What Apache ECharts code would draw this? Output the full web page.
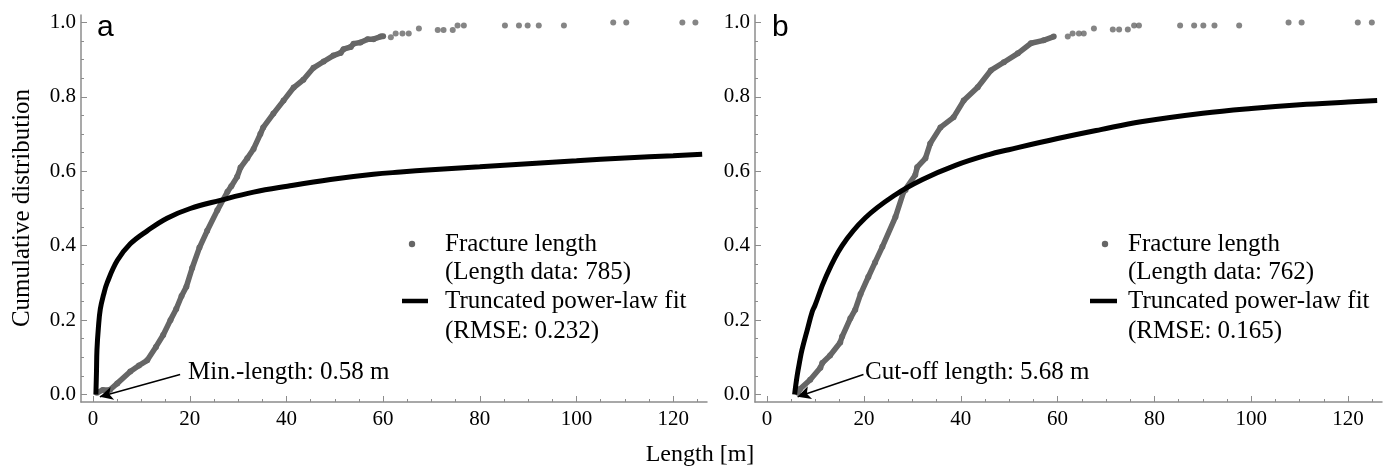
<!DOCTYPE html>
<html>
<head>
<meta charset="utf-8">
<script src="https://cdn.jsdelivr.net/npm/echarts@6/dist/echarts.min.js"></script>
<style>html,body{margin:0;padding:0;background:#fff;}#c{width:1386px;height:472px;}</style>
</head>
<body>
<div id="c"></div>
<script>
// ---- data ----
const xTicks = [0, 20, 40, 60, 80, 100, 120];
const yTicks = [0, 0.2, 0.4, 0.6, 0.8, 1.0];
const xMinor = [0,5,10,15,20,25,30,35,40,45,50,55,60,65,70,75,80,85,90,95,100,105,110,115,120,125];
const yMinor = [0,0.05,0.1,0.15,0.2,0.25,0.3,0.35,0.4,0.45,0.5,0.55,0.6,0.65,0.7,0.75,0.8,0.85,0.9,0.95,1.0];

// panel a: empirical CDF (dense part and separated points)
const denseA = [[0.8,0.005],[2,0.012],[3.5,0.013],[5,0.03],[7.7,0.062],[9.5,0.078],[11.2,0.092],[13,0.128],[14.5,0.16],[16,0.2],[17.2,0.23],[18.3,0.265],[19.3,0.29],[20.5,0.34],[22,0.395],[23.6,0.44],[25.7,0.495],[27.8,0.545],[28.6,0.56],[29.8,0.585],[30.5,0.61],[31.9,0.635],[33.2,0.66],[34.6,0.7],[35.2,0.718],[37.3,0.755],[39.4,0.79],[41.5,0.825],[43.5,0.846],[45.6,0.878],[47.7,0.895],[49.7,0.911],[51.2,0.918],[51.8,0.928],[53.3,0.934],[53.9,0.943],[55.3,0.946],[56.8,0.955],[58,0.955],[59.5,0.962],[60,0.963]];
const sparseA = [[61.6,0.96],[62.6,0.97],[64,0.97],[65.3,0.97],[67.4,0.984],[71.3,0.98],[72.5,0.98],[74.4,0.98],[75.4,0.992],[76.7,0.992],[85.2,0.992],[88.1,0.992],[89.9,0.992],[92.2,0.992],[97.4,0.992],[107.6,1.0],[110.3,1.0],[121.9,1.0],[124.6,1.0]];
// panel a: truncated power-law fit
const fitA = [[0.58,0],[0.7,0.06],[0.8,0.12],[1.1,0.18],[1.5,0.23],[2.2,0.27],[2.9,0.3],[5,0.36],[7.7,0.405],[11.2,0.44],[15.3,0.474],[20.1,0.5],[26.3,0.522],[33.2,0.544],[40.2,0.56],[49.1,0.578],[58,0.592],[63.6,0.598],[70,0.604],[80,0.612],[90,0.62],[100,0.628],[110,0.636],[120,0.642],[126,0.646]];

// panel b: empirical CDF
const denseB = [[6.4,0.005],[6.8,0.015],[8.9,0.04],[11,0.072],[11.4,0.085],[13,0.105],[15.1,0.14],[15.5,0.156],[17.2,0.205],[18.2,0.228],[19.3,0.27],[20.9,0.316],[22.3,0.355],[23.8,0.397],[26.5,0.477],[28.2,0.545],[28.6,0.55],[30.6,0.59],[31,0.611],[32.7,0.635],[33.7,0.675],[35.8,0.718],[38.5,0.745],[40.6,0.79],[43.5,0.826],[46.2,0.871],[48.9,0.893],[51.8,0.917],[54.5,0.944],[57.1,0.952],[59.2,0.962]];
const sparseB = [[62.1,0.962],[63.1,0.97],[64.4,0.97],[65.4,0.97],[67.5,0.984],[71.4,0.981],[72.7,0.981],[74.5,0.981],[75.8,0.992],[76.8,0.992],[85.3,0.992],[88.2,0.992],[90.1,0.992],[92.4,0.992],[97.5,0.992],[107.7,1.0],[110.4,1.0],[122,1.0],[124.9,1.0]];
const fitB = [[5.68,0],[6.2,0.05],[6.8,0.094],[7.2,0.12],[8.3,0.174],[9.3,0.222],[9.9,0.24],[12,0.312],[15.5,0.4],[20.3,0.475],[26.5,0.537],[32.1,0.578],[38.9,0.616],[45.8,0.645],[49.9,0.658],[60,0.688],[68.9,0.712],[77.2,0.733],[90,0.756],[100,0.769],[110,0.779],[120,0.786],[126,0.79]];

// annotation arrows [from, to] in data units
const arrowA = [[18,0.054],[1.4,-0.006]];
const arrowB = [[19.9,0.054],[6.3,-0.006]];

const legendA = ['Fracture length', '(Length data: 785)', 'Truncated power-law fit', '(RMSE: 0.232)'];
const legendB = ['Fracture length', '(Length data: 762)', 'Truncated power-law fit', '(RMSE: 0.165)'];
const noteA = 'Min.-length: 0.58 m';
const noteB = 'Cut-off length: 5.68 m';

// ---- chart ----
const SERIF = '"Liberation Serif", "Times New Roman", serif';
const SANS = '"Liberation Sans", Arial, sans-serif';
const AXC = '#8c8c8c';
const GRAY = '#666666';

const chart = echarts.init(document.getElementById('c'), null, {renderer: 'canvas'});

function xAxes(gi) {
  return [
    {type:'value', gridIndex:gi, min:-2.5, max:127, position:'bottom',
     axisLine:{show:true, onZero:false, lineStyle:{color:AXC, width:1.5}},
     axisTick:{show:true, inside:true, length:6, customValues:xTicks, lineStyle:{color:AXC}},
     axisLabel:{show:true, customValues:xTicks, color:'#000', fontFamily:SERIF, fontSize:21, margin:7},
     splitLine:{show:false}},
    {type:'value', gridIndex:gi, min:-2.5, max:127, position:'bottom',
     axisLine:{show:false, onZero:false},
     axisTick:{show:true, inside:true, length:3, customValues:xMinor, lineStyle:{color:AXC}},
     axisLabel:{show:false}, splitLine:{show:false}}
  ];
}
function yAxes(gi) {
  return [
    {type:'value', gridIndex:gi, min:-0.02, max:1.02, position:'left',
     axisLine:{show:true, onZero:false, lineStyle:{color:AXC, width:1.5}},
     axisTick:{show:true, inside:true, length:6, customValues:yTicks, lineStyle:{color:AXC}},
     axisLabel:{show:true, customValues:yTicks, color:'#000', fontFamily:SERIF, fontSize:21, margin:5,
                formatter: v => v.toFixed(1)},
     splitLine:{show:false}},
    {type:'value', gridIndex:gi, min:-0.02, max:1.02, position:'left',
     axisLine:{show:false, onZero:false},
     axisTick:{show:true, inside:true, length:3, customValues:yMinor, lineStyle:{color:AXC}},
     axisLabel:{show:false}, splitLine:{show:false}}
  ];
}

function panelSeries(xi, yi, dense, sparse, fit, arrow) {
  return [
    {type:'line', xAxisIndex:xi, yAxisIndex:yi, data:dense, showSymbol:true, symbol:'circle', symbolSize:6,
     itemStyle:{color:GRAY}, lineStyle:{color:GRAY, width:5.5}, silent:true, z:3},
    {type:'scatter', xAxisIndex:xi, yAxisIndex:yi, data:sparse, symbol:'circle', symbolSize:6,
     itemStyle:{color:GRAY}, silent:true, z:3},
    {type:'line', xAxisIndex:xi, yAxisIndex:yi, data:fit, showSymbol:false, smooth:0.4,
     lineStyle:{color:'#000', width:5}, silent:true, z:4,
     markLine:{silent:true, symbol:['none','arrow'], symbolSize:[10,13],
       lineStyle:{color:'#000', width:1.5, type:'solid'}, label:{show:false},
       data:[[{coord:arrow[0]},{coord:arrow[1]}]]}}
  ];
}

function textEl(x, y, str, size, family, opts) {
  return Object.assign({type:'text', x:x, y:y, silent:true,
    style:{text:str, fill:'#000', font: size + 'px ' + family, textVerticalAlign:'middle', textAlign:'left'}}, opts || {});
}

function legendEls(dotX, lineX0, lineX1, textX, lines) {
  const ys = [244, 272, 301, 331];
  const els = [
    {type:'circle', shape:{cx:dotX, cy:ys[0], r:3.2}, style:{fill:GRAY}, silent:true},
    {type:'line', shape:{x1:lineX0, y1:ys[2], x2:lineX1, y2:ys[2]}, style:{stroke:'#000', lineWidth:4.5}, silent:true}
  ];
  lines.forEach((t, i) => els.push(textEl(textX, ys[i], t, 25, SERIF)));
  return els;
}

const option = {
  animation:false,
  backgroundColor:'#fff',
  grid:[
    {left:81, right:679, top:15, bottom:70},
    {left:755, right:4, top:15, bottom:70}
  ],
  xAxis:[...xAxes(0), ...xAxes(1)],
  yAxis:[...yAxes(0), ...yAxes(1)],
  series:[
    ...panelSeries(0, 0, denseA, sparseA, fitA, arrowA),
    ...panelSeries(2, 2, denseB, sparseB, fitB, arrowB)
  ],
  graphic:[
    textEl(97, 28, 'a', 30, SANS),
    textEl(772, 28, 'b', 30, SANS),
    textEl(188, 372, noteA, 25, SERIF),
    textEl(865, 372, noteB, 25, SERIF),
    ...legendEls(412, 402, 428, 445, legendA),
    ...legendEls(1105, 1090, 1117, 1128, legendB),
    {type:'text', x:700, y:455, silent:true,
     style:{text:'Length [m]', fill:'#000', font:'24px ' + SERIF, textAlign:'center', textVerticalAlign:'middle'}},
    {type:'text', x:22, y:208, rotation:Math.PI/2, silent:true,
     style:{text:'Cumulative distribution', fill:'#000', font:'25px ' + SERIF, textAlign:'center', textVerticalAlign:'middle'}}
  ]
};
chart.setOption(option);
</script>
</body>
</html>
